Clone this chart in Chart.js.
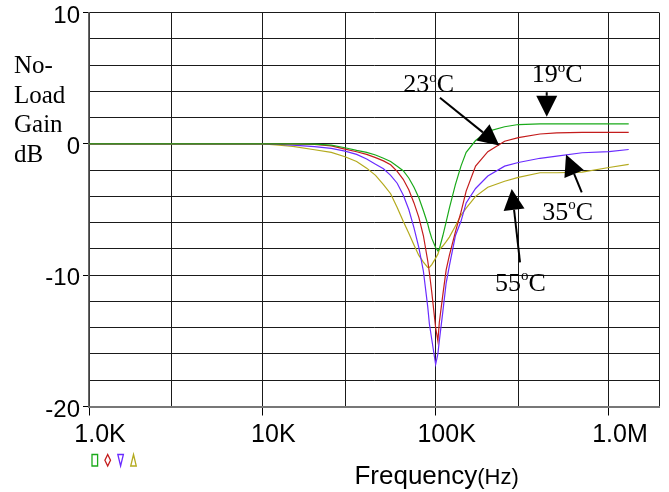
<!DOCTYPE html>
<html>
<head>
<meta charset="utf-8">
<script src="https://cdn.jsdelivr.net/npm/chart.js@4.4.0/dist/chart.umd.min.js"></script>
<style>
  html, body { margin: 0; padding: 0; background: #fff; }
  #c { display: block; }
</style>
</head>
<body>
<canvas id="c" width="669" height="492"></canvas>
<script>
// ---- data (frequency in Hz, gain in dB) ----
const freqs = [1000, 5000, 10000, 12000, 15000, 20000, 25000, 30000, 35000, 40000,
  45000, 50000, 55000, 60000, 65000, 70000, 75000, 80000, 85000, 90000,
  92000, 95000, 100000, 103000, 105000, 110000, 115000, 120000, 130000, 140000,
  150000, 170000, 200000, 250000, 300000, 400000, 500000, 700000, 1000000, 1300000];

const gain19C = [0, 0, 0, 0, 0, -0.02, -0.1, -0.3, -0.5, -0.65,
  -0.85, -1.1, -1.35, -1.7, -2.05, -2.6, -3.3, -4.1, -5.1, -6.1,
  -6.6, -7.2, -7.9, -8.15, -8.0, -7.0, -5.95, -4.9, -3.1, -1.7,
  -0.65, 0.25, 0.95, 1.3, 1.47, 1.52, 1.52, 1.52, 1.52, 1.52];

const gain23C = [0, 0, 0, 0, 0, -0.05, -0.15, -0.4, -0.6, -0.8,
  -1.05, -1.3, -1.6, -2.1, -2.7, -3.5, -4.5, -5.6, -7.0, -8.9,
  -9.8, -11.3, -14.0, -15.0, -13.6, -11.5, -9.6, -8.5, -6.7, -5.2,
  -3.6, -1.7, -0.6, 0.2, 0.47, 0.75, 0.84, 0.88, 0.88, 0.88];

const gain35C = [0, 0, 0, -0.03, -0.1, -0.22, -0.35, -0.55, -0.8, -1.15,
  -1.55, -1.9, -2.4, -3.0, -3.9, -5.0, -6.4, -7.9, -9.7, -12.4,
  -13.7, -14.9, -16.8, -16.0, -15.0, -12.8, -10.6, -9.3, -7.0, -5.9,
  -4.5, -3.4, -2.45, -1.7, -1.42, -1.1, -0.94, -0.68, -0.6, -0.43];

const gain55C = [0, 0, 0, -0.08, -0.2, -0.45, -0.65, -0.98, -1.35, -1.85,
  -2.4, -3.1, -3.8, -4.85, -5.9, -6.8, -7.7, -8.5, -9.0, -9.4,
  -9.4, -9.2, -8.7, -8.4, -8.05, -7.78, -7.45, -7.1, -6.26, -5.44,
  -4.9, -4.0, -3.3, -2.85, -2.55, -2.2, -2.2, -2.15, -1.8, -1.57];

const seriesNames = ['19°C', '23°C', '35°C', '55°C'];
const seriesValues = [gain19C, gain23C, gain35C, gain55C];
const seriesColors = ['#1aaa1a', '#c41c1c', '#6a2cff', '#b4aa1e'];
const seriesMarkers = ['rect', 'diamond', 'triDown', 'triUp'];

const xGridValues = [1000, 3000, 10000, 30000, 100000, 300000, 1000000];
const xTickLabels = { 1000: '1.0K', 10000: '10K', 100000: '100K', 1000000: '1.0M' };
const yTickLabels = { 10: '10', 0: '0', '-10': '-10', '-20': '-20' };
const yTitleLines = ['No-', 'Load', 'Gain', 'dB'];
const xMin = 1000, xMax = 1944000, yMin = -20, yMax = 10;

// annotation arrows: tail/tip in (Hz, dB); label anchored at left/baseline
const arrowNames = ['23', '19', '35', '55'];
const arrowTails = [[105900, 3.51], [437400, 3.93], [696600, -3.69], [306700, -9.02]];
const arrowTips = [[232900, -0.13], [437400, 2.06], [565300, -0.82], [274700, -3.43]];
const labelAnchors = [[65000, 3.93], [358400, 4.70], [412600, -5.77], [220000, -11.18]];

Chart.defaults.font.family = "'Liberation Sans', Arial, sans-serif";
Chart.defaults.color = '#000';

const decorPlugin = {
  id: 'decor',
  afterDraw(chart) {
    const ctx = chart.ctx;
    const xs = chart.scales.x, ys = chart.scales.y;
    ctx.save();
    ctx.fillStyle = '#000';
    ctx.textAlign = 'left';
    ctx.textBaseline = 'alphabetic';
    // y axis title (horizontal lines)
    ctx.font = "25px 'Liberation Serif', 'Times New Roman', serif";
    yTitleLines.forEach((t, i) => ctx.fillText(t, 14, 73.3 + i * 29.5));

    // x axis title
    ctx.font = "26px 'Liberation Sans', Arial, sans-serif";
    const w1 = ctx.measureText('Frequency').width;
    ctx.font = "22px 'Liberation Sans', Arial, sans-serif";
    const w2 = ctx.measureText('(Hz)').width;
    const cx = xs.getPixelForValue(100000) + 1;
    const tx = cx - (w1 + w2) / 2;
    const ty = ys.bottom + 77;
    ctx.font = "26px 'Liberation Sans', Arial, sans-serif";
    ctx.fillText('Frequency', tx, ty);
    ctx.font = "22px 'Liberation Sans', Arial, sans-serif";
    ctx.fillText('(Hz)', tx + w1, ty);

    // series markers under the axis
    ctx.lineWidth = 1.3;
    seriesMarkers.forEach((m, i) => {
      const mx = xs.left + 3 + i * 12.9;
      const top = ys.bottom + 48, bot = ys.bottom + 59.5, mw = 5.6;
      ctx.strokeStyle = seriesColors[i];
      ctx.beginPath();
      if (m === 'rect') {
        ctx.rect(mx, top, mw, bot - top);
      } else if (m === 'diamond') {
        ctx.moveTo(mx + mw / 2, top); ctx.lineTo(mx + mw, (top + bot) / 2);
        ctx.lineTo(mx + mw / 2, bot); ctx.lineTo(mx, (top + bot) / 2); ctx.closePath();
      } else if (m === 'triDown') {
        ctx.moveTo(mx, top); ctx.lineTo(mx + mw, top); ctx.lineTo(mx + mw / 2, bot); ctx.closePath();
      } else {
        ctx.moveTo(mx + mw / 2, top); ctx.lineTo(mx + mw, bot); ctx.lineTo(mx, bot); ctx.closePath();
      }
      ctx.stroke();
    });

    // arrows
    ctx.strokeStyle = '#000';
    ctx.fillStyle = '#000';
    arrowTails.forEach((t, i) => {
      const x1 = xs.getPixelForValue(t[0]), y1 = ys.getPixelForValue(t[1]);
      const x2 = xs.getPixelForValue(arrowTips[i][0]), y2 = ys.getPixelForValue(arrowTips[i][1]);
      const ang = Math.atan2(y2 - y1, x2 - x1);
      const hl = 21, hw = 10.5;
      const bx = x2 - hl * Math.cos(ang), by = y2 - hl * Math.sin(ang);
      ctx.lineWidth = 2;
      ctx.beginPath(); ctx.moveTo(x1, y1); ctx.lineTo(bx, by); ctx.stroke();
      ctx.beginPath();
      ctx.moveTo(x2, y2);
      ctx.lineTo(bx + hw * Math.sin(ang), by - hw * Math.cos(ang));
      ctx.lineTo(bx - hw * Math.sin(ang), by + hw * Math.cos(ang));
      ctx.closePath(); ctx.fill();
    });

    // temperature labels with superscript o
    labelAnchors.forEach((a, i) => {
      let lx = xs.getPixelForValue(a[0]);
      const ly = ys.getPixelForValue(a[1]);
      ctx.font = "26px 'Liberation Serif', 'Times New Roman', serif";
      ctx.fillText(arrowNames[i], lx, ly);
      lx += ctx.measureText(arrowNames[i]).width;
      ctx.font = "15px 'Liberation Serif', 'Times New Roman', serif";
      ctx.fillText('o', lx, ly - 10.5);
      lx += ctx.measureText('o').width;
      ctx.font = "26px 'Liberation Serif', 'Times New Roman', serif";
      ctx.fillText('C', lx, ly);
    });
    ctx.restore();
  }
};

const datasets = seriesValues.map((vals, i) => ({
  label: seriesNames[i],
  data: freqs.map((f, j) => ({ x: f, y: vals[j] })),
  borderColor: seriesColors[i],
  backgroundColor: seriesColors[i],
  borderWidth: 1.2,
  pointRadius: 0,
  tension: 0,
  fill: false
}));

new Chart(document.getElementById('c'), {
  type: 'line',
  data: { datasets },
  options: {
    responsive: false,
    animation: false,
    devicePixelRatio: 1,
    layout: { padding: { left: 0, right: 10, top: 12.5, bottom: 0 } },
    plugins: { legend: { display: false }, tooltip: { enabled: false } },
    scales: {
      x: {
        type: 'logarithmic',
        min: xMin,
        max: xMax,
        afterBuildTicks: s => { s.ticks = xGridValues.concat([xMax]).map(v => ({ value: v })); },
        afterFit: s => { s.height = 85.5; s.paddingLeft = 0; s.paddingRight = 0; },
        ticks: {
          autoSkip: false,
          maxRotation: 0,
          minRotation: 0,
          callback: v => xTickLabels[v] || '',
          font: { size: 25, family: "'Liberation Sans', Arial, sans-serif" },
          color: '#000',
          labelOffset: 11,
          padding: 5
        },
        grid: {
          color: '#1a1a1a',
          lineWidth: 1,
          tickLength: 9,
          tickColor: c => (c.tick && xTickLabels[c.tick.value]) ? '#000' : 'rgba(0,0,0,0)'
        },
        border: { display: true, color: '#777', width: 2 }
      },
      y: {
        min: yMin,
        max: yMax,
        afterFit: s => { s.width = 89; s.paddingTop = 0; s.paddingBottom = 0; },
        ticks: {
          stepSize: 2,
          autoSkip: false,
          callback: v => (yTickLabels[v] !== undefined ? yTickLabels[v] : ''),
          font: { size: 24, family: "'Liberation Sans', Arial, sans-serif" },
          color: '#000',
          labelOffset: 3.5,
          padding: 3
        },
        grid: {
          color: '#1a1a1a',
          lineWidth: 1,
          tickLength: 6,
          tickColor: c => (c.tick && yTickLabels[c.tick.value] !== undefined) ? '#000' : 'rgba(0,0,0,0)'
        },
        border: { display: true, color: '#666', width: 1.5 }
      }
    }
  },
  plugins: [decorPlugin]
});
</script>
</body>
</html>
